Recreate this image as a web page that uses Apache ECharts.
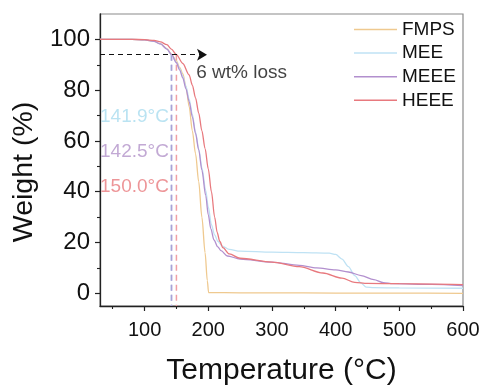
<!DOCTYPE html>
<html>
<head>
<meta charset="utf-8">
<script src="https://cdn.jsdelivr.net/npm/echarts@6/dist/echarts.min.js"></script>
<style>
html,body{margin:0;padding:0;background:#fff;}
#chart{width:487px;height:390px;}
</style>
</head>
<body>
<div id="chart"></div>
<script>
// ---- data (Temperature °C, Weight %) ----
const seriesNames = ['FMPS', 'MEE', 'MEEE', 'HEEE'];
const fmps = [[30,100],[80,100],[100,99.8],[115,99.2],[125,98.2],[135,96.4],[142,94.2],[150,91.5],[155,89],[160,86.5],[165,81.5],[170,73.5],[175,64],[180,55],[185,44],[190,30],[195,16],[198.5,5],[200.5,0.3],[250,0.2],[300,0.2],[400,0.1],[500,0.1],[600,0.0]];
const mee = [[30,100],[80,100],[100,99.8],[115,99.2],[125,98.2],[135,96.3],[141.9,94],[150,91],[155,88.5],[160,85.5],[165,81.5],[170,76.5],[175,70.5],[180,63.5],[185,57],[190,49.5],[196,40.5],[200,34],[205,27],[210,23],[215,20.5],[222,18.6],[233,17.3],[250,16.6],[300,16.2],[350,16],[390,15.8],[400,15.3],[410,13.5],[420,10.5],[430,7],[440,4],[448,2.4],[460,2.2],[500,2.1],[600,2.0]];
const meee = [[30,100],[80,100],[100,99.8],[115,99.2],[125,98.2],[135,96.2],[142.5,94],[150,90.8],[155,88],[160,84.8],[165,80.5],[170,75.5],[175,69.5],[180,63],[185,56.5],[190,48.5],[196,38.5],[200,31],[204,25.5],[209,21],[215,18.3],[220,16.8],[230,14.7],[250,13.5],[300,12.3],[343,11],[370,10],[400,9.2],[420,8.4],[440,7],[460,5.4],[475,4.2],[490,3.8],[550,3.5],[600,3.0]];
const heee = [[30,100],[80,100],[100,99.9],[115,99.6],[125,99],[135,97.9],[142,96.2],[150,94],[160,90.5],[170,86],[175,82],[180,77],[185,71],[190,64],[195,57],[200,49],[205,40],[210,30],[214,24],[218,20.5],[223,18],[233,15.5],[250,13.8],[300,12.3],[343,10.5],[380,8],[410,6],[430,4.3],[450,3.9],[500,3.8],[600,3.4]];
const onsetTemps = [141.9, 142.5, 150.0];
const onsetLabels = ['141.9°C', '142.5°C', '150.0°C'];
const onsetLabelY = [69.5, 55.6, 41.9];
const lossLevel = 94;
const arrowEndT = 198;
const lossText = '6 wt% loss';
const lossTextPos = [181, 86.7];
const xTicks = [100, 200, 300, 400, 500, 600];
const xMinorTicks = [50, 150, 250, 350, 450, 550];
const yTicks = [0, 20, 40, 60, 80, 100];
const yMinorTicks = [10, 30, 50, 70, 90];

// ---- styles ----
const FONT = "'Liberation Sans', Arial, sans-serif";
const colors = ['#efc98f', '#bfe2f4', '#b28fce', '#e8797e'];
const onsetLineColors = ['#b3c3e6', '#a9a2d6', '#f0a0a4'];
const onsetTextColors = ['#a9dcef', '#b393c9', '#e87a7e'];
const XMIN = 30, XMAX = 600, YMIN = -5, YMAX = 110;

const chart = echarts.init(document.getElementById('chart'), null, {renderer: 'canvas'});

const curveData = [fmps, mee, meee, heee];
const series = [];

// vertical dashed onset lines
onsetTemps.forEach((t, i) => {
  series.push({
    type: 'line', xAxisIndex: 0, yAxisIndex: 0, symbol: 'none', silent: true,
    data: [[t, lossLevel], [t, YMIN]],
    lineStyle: {color: onsetLineColors[i], width: 1.5, type: [6, 4]},
    itemStyle: {color: onsetLineColors[i]},
    z: 1
  });
});

curveData.forEach((d, i) => {
  series.push({
    name: seriesNames[i], type: 'line', xAxisIndex: 0, yAxisIndex: 0,
    symbol: 'none', smooth: 0.3, smoothMonotone: 'x',
    data: d,
    color: colors[i],
    lineStyle: {color: colors[i], width: 1.3},
    itemStyle: {color: colors[i]},
    z: 3
  });
});

// annotations: onset labels, loss text, arrow
series.push({
  type: 'scatter', xAxisIndex: 0, yAxisIndex: 0, symbolSize: 0, silent: true,
  data: onsetLabels.map((s, i) => ({
    value: [XMIN, onsetLabelY[i]],
    label: {show: true, position: 'right', distance: 0, formatter: s,
      color: onsetTextColors[i], fontSize: 19, fontFamily: FONT}
  })).concat([{
    value: lossTextPos,
    label: {show: true, position: 'right', distance: 0, formatter: lossText,
      color: '#111', fontSize: 19, fontFamily: FONT}
  }]),
  markLine: {
    silent: true, symbol: ['none', 'arrow'], symbolSize: [9, 10],
    lineStyle: {color: '#111', width: 1.2, type: [5, 4]},
    label: {show: false},
    data: [[{coord: [XMIN, lossLevel]}, {coord: [arrowEndT, lossLevel]}]]
  },
  z: 5
});

const axisColor = '#222';
const option = {
  backgroundColor: '#fff',
  animation: false,
  grid: {left: 100, right: 24, top: 14, bottom: 84, outerBoundsMode: 'none', containLabel: false,
    show: true, borderColor: '#8a8a8a', borderWidth: 1.2, backgroundColor: 'transparent'},
  legend: {
    data: seriesNames.map((n, i) => ({name: n, icon: 'rect', itemStyle: {color: colors[i], borderWidth: 0}})),
    orient: 'vertical', left: 354, top: 20, padding: 0,
    itemWidth: 43, itemHeight: 1.5, itemGap: 4.6,
    textStyle: {fontSize: 19, color: '#111', fontFamily: FONT}
  },
  xAxis: [{
    type: 'value', min: XMIN, max: XMAX,
    name: 'Temperature (°C)', nameLocation: 'middle', nameGap: 50,
    nameTextStyle: {fontSize: 30, color: '#111', fontFamily: FONT},
    axisLine: {show: true, onZero: false, lineStyle: {color: axisColor, width: 1.3}},
    axisTick: {show: true, length: 5, inside: false, customValues: xTicks, lineStyle: {color: axisColor, width: 1.2}},
    axisLabel: {show: true, customValues: xTicks, margin: 14, fontSize: 20, color: '#111', fontFamily: FONT},
    splitLine: {show: false}
  }, {
    type: 'value', min: XMIN, max: XMAX, position: 'bottom', gridIndex: 0,
    axisLine: {show: false, onZero: false},
    axisTick: {show: true, length: 3, customValues: xMinorTicks, lineStyle: {color: axisColor, width: 1.1}},
    axisLabel: {show: false},
    splitLine: {show: false}
  }],
  yAxis: [{
    type: 'value', min: YMIN, max: YMAX,
    name: 'Weight (%)', nameLocation: 'middle', nameGap: 56,
    nameTextStyle: {fontSize: 28.5, color: '#111', fontFamily: FONT, padding: [0, 24, 0, 0]},
    axisLine: {show: true, onZero: false, lineStyle: {color: axisColor, width: 1.3}},
    axisTick: {show: true, length: 5, customValues: yTicks, lineStyle: {color: axisColor, width: 1.2}},
    axisLabel: {show: true, customValues: yTicks, margin: 10, fontSize: 24, color: '#111', fontFamily: FONT},
    splitLine: {show: false}
  }, {
    type: 'value', min: YMIN, max: YMAX, position: 'left', gridIndex: 0,
    axisLine: {show: false, onZero: false},
    axisTick: {show: true, length: 3, customValues: yMinorTicks, lineStyle: {color: axisColor, width: 1.1}},
    axisLabel: {show: false},
    splitLine: {show: false}
  }],
  series: series
};
chart.setOption(option);
</script>
</body>
</html>
